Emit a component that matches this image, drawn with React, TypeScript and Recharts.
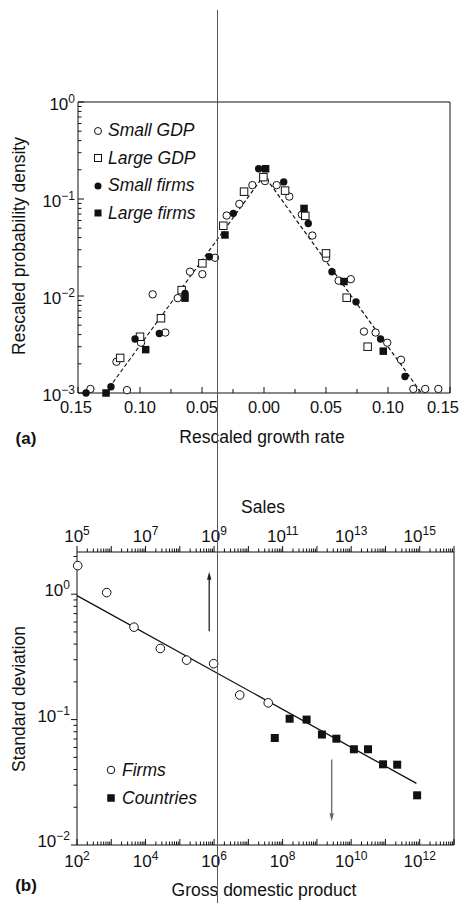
import React from 'react';
import { ComposedChart, Scatter, XAxis, YAxis, ReferenceArea, ReferenceLine, Legend } from 'recharts';

const FONT = "'Liberation Sans', Arial, Helvetica, sans-serif";
const INK = '#111';

// ---------------- Panel (a): rescaled growth-rate densities ----------------
const smallGdp = [
  { x: -0.140, y: 0.0011 }, { x: -0.119, y: 0.0021 }, { x: -0.1105, y: 0.00107 }, { x: -0.0992, y: 0.0033 },
  { x: -0.0898, y: 0.0104 }, { x: -0.0796, y: 0.0042 }, { x: -0.0696, y: 0.0095 }, { x: -0.0597, y: 0.0178 },
  { x: -0.0497, y: 0.0168 }, { x: -0.0395, y: 0.0248 }, { x: -0.0301, y: 0.0675 }, { x: -0.0199, y: 0.089 },
  { x: -0.0094, y: 0.139 }, { x: 0.0008, y: 0.153 }, { x: 0.0102, y: 0.139 }, { x: 0.0204, y: 0.106 },
  { x: 0.0306, y: 0.069 }, { x: 0.039, y: 0.042 }, { x: 0.050, y: 0.0245 }, { x: 0.0602, y: 0.0144 },
  { x: 0.070, y: 0.0149 }, { x: 0.0806, y: 0.0043 }, { x: 0.090, y: 0.0042 }, { x: 0.0994, y: 0.0033 },
  { x: 0.1105, y: 0.0022 }, { x: 0.1204, y: 0.0011 }, { x: 0.130, y: 0.0011 }, { x: 0.1406, y: 0.0011 },
];
const largeGdp = [
  { x: -0.116, y: 0.0023 }, { x: -0.100, y: 0.0038 }, { x: -0.0831, y: 0.0059 }, { x: -0.0664, y: 0.0115 },
  { x: -0.0497, y: 0.0217 }, { x: -0.0328, y: 0.053 }, { x: -0.0161, y: 0.119 }, { x: -0.0005, y: 0.168 },
  { x: 0.017, y: 0.122 }, { x: 0.0333, y: 0.067 }, { x: 0.050, y: 0.0275 }, { x: 0.0667, y: 0.0096 },
  { x: 0.0836, y: 0.0030 },
];
const smallFirms = [
  { x: -0.1435, y: 0.001 }, { x: -0.1234, y: 0.00116 }, { x: -0.104, y: 0.0036 }, { x: -0.0844, y: 0.0041 },
  { x: -0.0637, y: 0.0106 }, { x: -0.0441, y: 0.0254 }, { x: -0.0247, y: 0.0711 }, { x: -0.0043, y: 0.205 },
  { x: 0.0159, y: 0.150 }, { x: 0.0357, y: 0.056 }, { x: 0.0548, y: 0.0178 }, { x: 0.0742, y: 0.0087 },
  { x: 0.094, y: 0.0036 }, { x: 0.1137, y: 0.00148 },
];
const largeFirms = [
  { x: -0.1274, y: 0.001 }, { x: -0.0954, y: 0.0028 }, { x: -0.0637, y: 0.0095 }, { x: -0.0315, y: 0.0426 },
  { x: 0.0013, y: 0.205 }, { x: 0.0323, y: 0.080 }, { x: 0.0645, y: 0.0141 }, { x: 0.0962, y: 0.0027 },
];
const tentFit = [{ x: -0.128, y: 0.001 }, { x: 0, y: 0.175 }, { x: 0.127, y: 0.001 }];
const growthTicks = [-0.15, -0.125, -0.1, -0.075, -0.05, -0.025, 0, 0.025, 0.05, 0.075, 0.1, 0.125, 0.15];
const growthLabelTicks = [-0.15, -0.1, -0.05, 0, 0.05, 0.1, 0.15];
const densityExponents = [-3, -2, -1, 0];

// ---------------- Panel (b): standard deviation vs size ----------------
const firms = [
  { x: 105, y: 1.69 }, { x: 735, y: 1.03 }, { x: 4.6e3, y: 0.546 }, { x: 2.7e4, y: 0.369 },
  { x: 1.58e5, y: 0.298 }, { x: 9.7e5, y: 0.279 }, { x: 5.6e6, y: 0.157 }, { x: 3.8e7, y: 0.136 },
];
const countries = [
  { x: 5.9e7, y: 0.0713 }, { x: 1.6e8, y: 0.1016 }, { x: 5e8, y: 0.1 }, { x: 1.4e9, y: 0.076 },
  { x: 3.7e9, y: 0.0704 }, { x: 1.2e10, y: 0.058 }, { x: 3.1e10, y: 0.058 }, { x: 8.5e10, y: 0.044 },
  { x: 2.2e11, y: 0.0437 }, { x: 8.4e11, y: 0.0249 },
];
const powerFit = [{ x: 100, y: 0.975 }, { x: 8e11, y: 0.031 }];
const upArrow = [{ x: 7.2e5, y: 0.507 }, { x: 7.2e5, y: 1.51 }];
const downArrow = [{ x: 2.7e9, y: 0.048 }, { x: 2.7e9, y: 0.0155 }];
// extent of the upper "Sales" axis (sales span 10^5 … 10^16 over the same width)
const salesRange = [{ x: 1e5, y: 1 }, { x: 1e16, y: 1 }];
const gdpExponents = [2, 4, 6, 8, 10, 12];
const salesExponents = [5, 7, 9, 11, 13, 15];
const sdExponents = [-2, -1, 0];

const mantissas = [1, 2, 3, 4, 5, 6, 7, 8, 9];
const decadeTicks = (lo: number, hi: number) => {
  const t: number[] = [];
  for (let e = lo; e < hi; e++) for (const m of mantissas) t.push(m * Math.pow(10, e));
  t.push(Math.pow(10, hi));
  return t;
};
const densityTicks = decadeTicks(-3, 0);
const sdTicks = [...decadeTicks(-2, 0), 2];
const gdpTicks = decadeTicks(2, 13);
const salesTicks = decadeTicks(5, 16);

const isDecade = (v: number) => Math.abs(Math.log10(v) - Math.round(Math.log10(v))) < 1e-6;
const expOf = (v: number) => Math.round(Math.log10(v));

// ---------------- markers ----------------
const openCircle = (r: number) => (p: any) => (
  <circle cx={p.cx} cy={p.cy} r={r} fill="#fff" stroke={INK} strokeWidth={1} />
);
const filledCircle = (r: number) => (p: any) => <circle cx={p.cx} cy={p.cy} r={r} fill={INK} />;
const openSquare = (s: number) => (p: any) => (
  <rect x={p.cx - s / 2} y={p.cy - s / 2} width={s} height={s} fill="#fff" stroke={INK} strokeWidth={1} />
);
const filledSquare = (s: number) => (p: any) => (
  <rect x={p.cx - s / 2} y={p.cy - s / 2} width={s} height={s} fill={INK} />
);
const noShape = () => <g />;

function PowLabel({ x, y, e, anchor }: { x: number; y: number; e: number; anchor: any }) {
  return (
    <text x={x} y={y} textAnchor={anchor} fontFamily={FONT} fontSize={17} fill={INK}>
      <tspan>10</tspan>
      <tspan fontSize={12} dy={-7}>{e < 0 ? `\u2212${-e}` : `${e}`}</tspan>
    </text>
  );
}

// ---------------- tick renderers ----------------
const GrowthTick = (p: any) => {
  const { x, y, payload } = p;
  const v = payload.value;
  const labelled = growthLabelTicks.some((t) => Math.abs(t - v) < 1e-9);
  const shift = v <= -0.149 ? -2 : v >= 0.149 ? -7 : 0;
  return (
    <g>
      <line x1={x} x2={x} y1={y} y2={y - (labelled ? 6 : 4)} stroke={INK} />
      {labelled && (
        <text x={x + shift} y={y + 20} textAnchor="middle" fontFamily={FONT} fontSize={16.5} fill={INK}>
          {Math.abs(v).toFixed(2)}
        </text>
      )}
    </g>
  );
};
const DensityTick = (p: any) => {
  const { x, y, payload } = p;
  const v = payload.value;
  const major = isDecade(v);
  return (
    <g>
      <line x1={x} x2={x + (major ? 6 : 3.5)} y1={y} y2={y} stroke={INK} />
      {major && densityExponents.includes(expOf(v)) && <PowLabel x={x - 3} y={y + 8} e={expOf(v)} anchor="end" />}
    </g>
  );
};
const SdTick = (p: any) => {
  const { x, y, payload } = p;
  const v = payload.value;
  const major = isDecade(v);
  return (
    <g>
      <line x1={x} x2={x - (major ? 6 : 3.5)} y1={y} y2={y} stroke={INK} />
      {major && sdExponents.includes(expOf(v)) && <PowLabel x={x - 7} y={y + 2} e={expOf(v)} anchor="end" />}
    </g>
  );
};
const GdpTick = (p: any) => {
  const { x, y, payload } = p;
  const v = payload.value;
  const major = isDecade(v);
  return (
    <g>
      <line x1={x} x2={x} y1={y} y2={y - (major ? 6 : 3.5)} stroke={INK} />
      {major && gdpExponents.includes(expOf(v)) && <PowLabel x={x} y={y + 22} e={expOf(v)} anchor="middle" />}
    </g>
  );
};
const SalesTick = (p: any) => {
  const { x, y, payload } = p;
  const v = payload.value;
  const major = isDecade(v);
  return (
    <g>
      <line x1={x} x2={x} y1={y} y2={y - (major ? 6 : 3.5)} stroke={INK} />
      {major && salesExponents.includes(expOf(v)) && <PowLabel x={x} y={y - 10} e={expOf(v)} anchor="middle" />}
    </g>
  );
};

const Arrow = (color: string) => (p: any) => {
  const { x1, y1, x2, y2 } = p;
  const dir = Math.sign(y2 - y1) || 1;
  return (
    <g>
      <line x1={x1} y1={y1} x2={x2} y2={y2 - dir * 4} stroke={color} strokeWidth={1.3} />
      <polygon points={`${x2 - 2.2},${y2 - dir * 8} ${x2 + 2.2},${y2 - dir * 8} ${x2},${y2}`} fill={color} />
    </g>
  );
};

// ---------------- legends ----------------
type LegendItem = { label: string; marker: 'oc' | 'os' | 'fc' | 'fs' };
const legendA: LegendItem[] = [
  { label: 'Small GDP', marker: 'oc' },
  { label: 'Large GDP', marker: 'os' },
  { label: 'Small firms', marker: 'fc' },
  { label: 'Large firms', marker: 'fs' },
];
const legendB: LegendItem[] = [
  { label: 'Firms', marker: 'oc' },
  { label: 'Countries', marker: 'fs' },
];
function Marker({ kind, size }: { kind: LegendItem['marker']; size: number }) {
  const c = 6;
  return (
    <svg width={12} height={12} style={{ display: 'block' }}>
      {kind === 'oc' && <circle cx={c} cy={c} r={size / 2} fill="#fff" stroke={INK} />}
      {kind === 'fc' && <circle cx={c} cy={c} r={size / 2} fill={INK} />}
      {kind === 'os' && <rect x={c - size / 2} y={c - size / 2} width={size} height={size} fill="#fff" stroke={INK} />}
      {kind === 'fs' && <rect x={c - size / 2} y={c - size / 2} width={size} height={size} fill={INK} />}
    </svg>
  );
}
const LegendBox = ({ items, rowH, gap, size }: { items: LegendItem[]; rowH: number; gap: number; size: number }) => (
  <div style={{ fontFamily: FONT, fontStyle: 'italic', fontSize: 17.5, color: INK }}>
    {items.map((it) => (
      <div key={it.label} style={{ display: 'flex', alignItems: 'center', height: rowH, whiteSpace: 'nowrap' }}>
        <Marker kind={it.marker} size={size} />
        <span style={{ marginLeft: gap }}>{it.label}</span>
      </div>
    ))}
  </div>
);

function Title({ text, cx, cy, size = 17.5, bold = false, rotate = 0 }: any) {
  return (
    <div
      style={{
        position: 'absolute', left: cx, top: cy, transform: `translate(-50%,-50%) rotate(${rotate}deg)`,
        fontFamily: FONT, fontSize: size, fontWeight: bold ? 700 : 400, lineHeight: 1, whiteSpace: 'nowrap', color: INK,
      }}
    >
      {text}
    </div>
  );
}

export default function App() {
  return (
    <div style={{ position: 'absolute', left: 0, top: 0, width: 460, height: 903, background: '#fff', overflow: 'hidden' }}>
      {/* Panel (a) */}
      <div style={{ position: 'absolute', left: 0, top: 0 }}>
        <ComposedChart width={460} height={460} margin={{ top: 102, right: 10, bottom: 66, left: 77 }}>
          <XAxis dataKey="x" type="number" domain={[-0.15, 0.15]} ticks={growthTicks} interval={0} height={1}
            tickSize={0} tickMargin={0} axisLine={false} tickLine={false} tick={GrowthTick} />
          <YAxis dataKey="y" type="number" scale="log" domain={[0.001, 1]} ticks={densityTicks} interval={0} width={1}
            tickSize={0} tickMargin={0} axisLine={false} tickLine={false} tick={DensityTick} />
          <ReferenceArea x1={-0.15} x2={0.15} y1={0.001} y2={1} fill="none" stroke={INK} strokeWidth={1} />
          <Scatter data={tentFit} line={{ stroke: INK, strokeWidth: 1.2, strokeDasharray: '4 2.5' }} lineType="joint"
            shape={noShape} isAnimationActive={false} legendType="none" />
          <Scatter name="Small GDP" data={smallGdp} shape={openCircle(3.7)} isAnimationActive={false} />
          <Scatter name="Large GDP" data={largeGdp} shape={openSquare(7.5)} isAnimationActive={false} />
          <Scatter name="Small firms" data={smallFirms} shape={filledCircle(3.7)} isAnimationActive={false} />
          <Scatter name="Large firms" data={largeFirms} shape={filledSquare(7.5)} isAnimationActive={false} />
          <Legend layout="vertical" align="center" verticalAlign="middle"
            wrapperStyle={{ left: 92, top: 117, width: 160, height: 112 }}
            content={() => <LegendBox items={legendA} rowH={27.5} gap={4} size={7} />} />
        </ComposedChart>
      </div>

      {/* Panel (b) */}
      <div style={{ position: 'absolute', left: 0, top: 460 }}>
        <ComposedChart width={460} height={443} margin={{ top: 91, right: 6, bottom: 57, left: 76 }}>
          <XAxis xAxisId="gdp" dataKey="x" type="number" scale="log" domain={[1e2, 1e13]} ticks={gdpTicks} interval={0}
            height={1} tickSize={0} tickMargin={0} axisLine={false} tickLine={false} tick={GdpTick} />
          <XAxis xAxisId="sales" dataKey="x" orientation="top" type="number" scale="log" domain={[1e5, 1e16]}
            ticks={salesTicks} interval={0} height={1} tickSize={0} tickMargin={0} axisLine={false} tickLine={false}
            tick={SalesTick} />
          <YAxis dataKey="y" type="number" scale="log" domain={[0.01, 2.17]} ticks={sdTicks} interval={0} width={1}
            tickSize={0} tickMargin={0} axisLine={false} tickLine={false} tick={SdTick} />
          <ReferenceArea xAxisId="gdp" x1={1e2} x2={1e13} y1={0.01} y2={2.17} fill="none" stroke={INK} strokeWidth={1} />
          <Scatter xAxisId="sales" data={salesRange} shape={noShape} isAnimationActive={false} legendType="none" />
          <Scatter xAxisId="gdp" data={powerFit} line={{ stroke: INK, strokeWidth: 1.3 }} lineType="joint"
            shape={noShape} isAnimationActive={false} legendType="none" />
          <Scatter xAxisId="gdp" name="Firms" data={firms} shape={openCircle(4.3)} isAnimationActive={false} />
          <Scatter xAxisId="gdp" name="Countries" data={countries} shape={filledSquare(8)} isAnimationActive={false} />
          <ReferenceLine xAxisId="gdp" segment={upArrow} shape={Arrow('#222')} />
          <ReferenceLine xAxisId="gdp" segment={downArrow} shape={Arrow('#666')} />
          <Legend layout="vertical" align="center" verticalAlign="middle"
            wrapperStyle={{ left: 105, top: 296, width: 120, height: 57 }}
            content={() => <LegendBox items={legendB} rowH={28.3} gap={5} size={7.5} />} />
        </ComposedChart>
      </div>

      <Title text="Rescaled probability density" cx={20} cy={246} rotate={-90} />
      <Title text="Rescaled growth rate" cx={262} cy={438} />
      <Title text="(a)" cx={26} cy={438} bold size={17} />
      <Title text="Sales" cx={263} cy={508} />
      <Title text="Standard deviation" cx={20} cy={699} rotate={-90} />
      <Title text="Gross domestic product" cx={264} cy={891} />
      <Title text="(b)" cx={26} cy={885} bold size={17} />

      {/* scanner streak crossing the page */}
      <div style={{ position: 'absolute', left: 216.5, top: 10, width: 1, height: 893, background: '#555' }} />
    </div>
  );
}
